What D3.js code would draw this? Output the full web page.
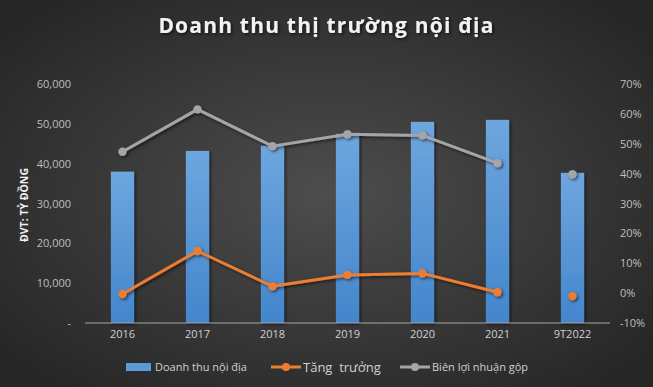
<!DOCTYPE html>
<html>
<head>
<meta charset="utf-8">
<script src="https://cdn.jsdelivr.net/npm/d3@7"></script>
<style>
  body { margin: 0; background: #2a2a2a; }
  svg { display: block; font-family: "Open Sans", "Noto Sans", sans-serif; }
</style>
</head>
<body>
<div id="chart"></div>
<script>
let W = 653, H = 387;
let categories = ["2016", "2017", "2018", "2019", "2020", "2021", "9T2022"];
let revenue = [38000, 43200, 44500, 47500, 50500, 51000, 37700]; // ty dong
let growth = [-0.3, 14.1, 2.3, 6.1, 6.6, 0.3, -1.0];             // %
let margin = [47.3, 61.5, 49.2, 53.2, 52.8, 43.5, 39.8];          // %
let leftTicks = [0, 10000, 20000, 30000, 40000, 50000, 60000];
let rightTicks = [-10, 0, 10, 20, 30, 40, 50, 60, 70];

let plot = {left: 85, right: 610, top: 84, bottom: 323};

let svg = d3.select("#chart").append("svg")
  .attr("width", W).attr("height", H);

let defs = svg.append("defs");
let bg = defs.append("radialGradient").attr("id", "bg")
  .attr("cx", "50%").attr("cy", "50%").attr("r", "65%");
bg.append("stop").attr("offset", "0%").attr("stop-color", "#4d4d4d");
bg.append("stop").attr("offset", "100%").attr("stop-color", "#262626");

let barGrad = defs.append("linearGradient").attr("id", "barGrad")
  .attr("x1", 0).attr("y1", 0).attr("x2", 0).attr("y2", 1);
barGrad.append("stop").attr("offset", "0%").attr("stop-color", "#6ea6de");
barGrad.append("stop").attr("offset", "100%").attr("stop-color", "#4386cc");

let shadow = defs.append("filter").attr("id", "shadow")
  .attr("x", "-30%").attr("y", "-30%").attr("width", "160%").attr("height", "160%");
shadow.append("feDropShadow").attr("dx", 1.5).attr("dy", 1.5)
  .attr("stdDeviation", 1.5).attr("flood-color", "#000").attr("flood-opacity", 0.6);

svg.append("rect").attr("width", W).attr("height", H).attr("fill", "url(#bg)");

// title
svg.append("text")
  .attr("x", W / 2).attr("y", 33)
  .attr("text-anchor", "middle")
  .attr("fill", "#f2f2f2")
  .attr("font-size", 21).attr("font-weight", "bold")
  .attr("letter-spacing", 1.2)
  .attr("filter", "url(#shadow)")
  .text("Doanh thu thị trường nội địa");

let x = d3.scaleBand().domain(categories)
  .range([plot.left, plot.right]).paddingInner(0.69).paddingOuter(0.345);
let yL = d3.scaleLinear().domain([0, 60000]).range([plot.bottom, plot.top]);
let yR = d3.scaleLinear().domain([-10, 70]).range([plot.bottom, plot.top]);
let cx = d => x(d) + x.bandwidth() / 2;

// left axis
let leftAxis = d3.axisLeft(yL).tickValues(leftTicks).tickSize(0).tickPadding(0)
  .tickFormat(d => d === 0 ? "-" : d3.format(",")(d));
let gL = svg.append("g").attr("transform", "translate(71,0)").call(leftAxis);
gL.select(".domain").remove();
gL.selectAll("text").attr("fill", "#bfbfbf").attr("font-size", 11)
  .attr("font-family", "'Open Sans', sans-serif");

// right axis
let rightAxis = d3.axisRight(yR).tickValues(rightTicks).tickSize(0).tickPadding(0)
  .tickFormat(d => d + "%");
let gR = svg.append("g").attr("transform", "translate(620,0)").call(rightAxis);
gR.select(".domain").remove();
gR.selectAll("text").attr("fill", "#bfbfbf").attr("font-size", 11)
  .attr("font-family", "'Open Sans', sans-serif");

// axis title
svg.append("text")
  .attr("transform", "translate(28,205) rotate(-90)")
  .attr("text-anchor", "middle")
  .attr("fill", "#f2f2f2").attr("font-size", 10.5).attr("font-weight", "bold")
  .text("ĐVT: TỶ ĐỒNG");

// bars
svg.append("g").selectAll("rect").data(revenue).enter().append("rect")
  .attr("x", (d, i) => x(categories[i]))
  .attr("y", d => yL(d))
  .attr("width", x.bandwidth())
  .attr("height", d => yL(0) - yL(d))
  .attr("fill", "url(#barGrad)")
  .attr("filter", "url(#shadow)");

// baseline
svg.append("line")
  .attr("x1", plot.left).attr("x2", plot.right)
  .attr("y1", plot.bottom).attr("y2", plot.bottom)
  .attr("stroke", "#a6a6a6").attr("stroke-width", 1);

// x labels
let xAxis = d3.axisBottom(x).tickSize(0).tickPadding(0);
let gX = svg.append("g").attr("transform", "translate(0," + (plot.bottom + 7) + ")").call(xAxis);
gX.select(".domain").remove();
gX.selectAll("text").attr("fill", "#d0d0d0").attr("font-size", 11)
  .attr("font-family", "'Open Sans', sans-serif");

// lines (first 6 connected, last point standalone)
function drawSeries(values, color) {
  let line = d3.line()
    .defined((d, i) => i < 6)
    .x((d, i) => cx(categories[i]))
    .y(d => yR(d));
  let g = svg.append("g").attr("filter", "url(#shadow)");
  g.append("path").datum(values)
    .attr("d", line)
    .attr("fill", "none").attr("stroke", color).attr("stroke-width", 3)
    .attr("stroke-linejoin", "round");
  g.selectAll("circle").data(values).enter().append("circle")
    .attr("cx", (d, i) => cx(categories[i]))
    .attr("cy", d => yR(d))
    .attr("r", 4.2).attr("fill", color);
}
drawSeries(margin, "#a5a5a5");
drawSeries(growth, "#ed7d31");

// legend
let lg = svg.append("g").attr("font-family", "'Open Sans', sans-serif");
lg.append("rect").attr("x", 126).attr("y", 363).attr("width", 25).attr("height", 8)
  .attr("fill", "#5b9bd5");
lg.append("text").attr("x", 155).attr("y", 371).attr("fill", "#d0d0d0")
  .attr("font-size", 11).text("Doanh thu nội địa");

lg.append("line").attr("x1", 271).attr("x2", 301).attr("y1", 367).attr("y2", 367)
  .attr("stroke", "#ed7d31").attr("stroke-width", 3);
lg.append("circle").attr("cx", 286).attr("cy", 367).attr("r", 4).attr("fill", "#ed7d31");
lg.append("text").attr("x", 303).attr("y", 372).attr("fill", "#d0d0d0")
  .attr("font-size", 13).attr("xml:space", "preserve").text("Tăng  trưởng");

lg.append("line").attr("x1", 400).attr("x2", 430).attr("y1", 367).attr("y2", 367)
  .attr("stroke", "#a5a5a5").attr("stroke-width", 3);
lg.append("circle").attr("cx", 415).attr("cy", 367).attr("r", 4).attr("fill", "#a5a5a5");
lg.append("text").attr("x", 432).attr("y", 371).attr("fill", "#d0d0d0")
  .attr("font-size", 11).text("Biên lợi nhuận gộp");
</script>
</body>
</html>
